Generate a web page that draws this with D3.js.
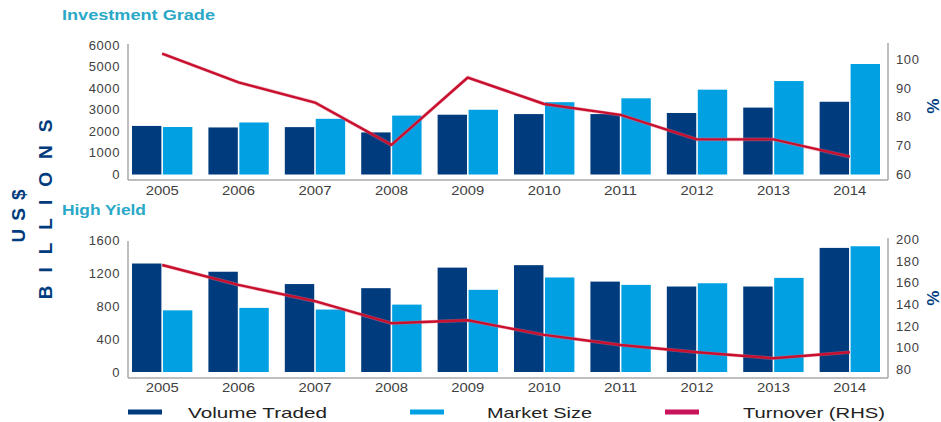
<!DOCTYPE html>
<html>
<head>
<meta charset="utf-8">
<script src="https://cdn.jsdelivr.net/npm/d3@7"></script>
<style>
  body { margin: 0; background: #fff; }
  svg { display: block; font-family: "Liberation Sans", Arial, sans-serif; }
</style>
</head>
<body>
<svg id="chart" width="941" height="422"></svg>
<script>
// data
const years = ['2005', '2006', '2007', '2008', '2009', '2010', '2011', '2012', '2013', '2014'];

const igVolume = [2250, 2180, 2195, 1950, 2770, 2800, 2800, 2850, 3100, 3370];
const igMarket = [2200, 2410, 2580, 2730, 3000, 3350, 3530, 3930, 4330, 5120];
const igTurnover = [102, 92, 85, 70.3, 93.7, 84.5, 80.7, 72.2, 72.2, 66.2];

const hyVolume = [1320, 1220, 1070, 1020, 1270, 1300, 1100, 1040, 1040, 1510];
const hyMarket = [750, 780, 760, 820, 1000, 1150, 1060, 1080, 1145, 1530];
const hyTurnover = [176.4, 158, 143, 122.6, 125.3, 111.8, 102.5, 95.8, 90.2, 95.8];

const igLeftTicks = [0, 1000, 2000, 3000, 4000, 5000, 6000];
const igRightTicks = [60, 70, 80, 90, 100];
const hyLeftTicks = [0, 400, 800, 1200, 1600];
const hyRightTicks = [80, 100, 120, 140, 160, 180, 200];

const legendItems = ['Volume Traded', 'Market Size', 'Turnover (RHS)'];

const navy = '#003b7e';
const sky = '#00a0e2';
const red = '#c8102e';
const axisGrey = '#a8a8a8';
const tickText = '#404040';
const titleColor = '#2aa8c8';

const svg = d3.select('#chart');

const x = d3.scaleBand().domain(years).range([132, 880]).paddingInner(0.21);
const xSub = d3.scaleBand().domain(['vol', 'mkt']).range([0, x.bandwidth()]).paddingInner(0.05);

function drawPanel(cfg) {
    const g = svg.append('g');
    const yL = d3.scaleLinear().domain(cfg.leftDomain).range(cfg.yRange);
    const yR = d3.scaleLinear().domain(cfg.rightDomain).range(cfg.yRangeR);

    // axis lines
    g.append('line').attr('x1', 128).attr('x2', 128).attr('y1', cfg.axisTop).attr('y2', cfg.axisBottom)
        .attr('stroke', axisGrey).attr('stroke-width', 1.5);
    g.append('line').attr('x1', 888).attr('x2', 888).attr('y1', cfg.axisTopR).attr('y2', cfg.axisBottom)
        .attr('stroke', axisGrey).attr('stroke-width', 1.5);
    g.append('line').attr('x1', 128).attr('x2', 888).attr('y1', cfg.axisBottom).attr('y2', cfg.axisBottom)
        .attr('stroke', axisGrey).attr('stroke-width', 1.5);

    // bars
    const groups = g.selectAll('.grp').data(years).enter().append('g')
        .attr('transform', d => `translate(${x(d)},0)`);
    groups.append('rect')
        .attr('x', xSub('vol')).attr('width', xSub.bandwidth())
        .attr('y', (d, i) => yL(cfg.vol[i]))
        .attr('height', (d, i) => yL(0) - yL(cfg.vol[i]))
        .attr('fill', navy);
    groups.append('rect')
        .attr('x', xSub('mkt')).attr('width', xSub.bandwidth())
        .attr('y', (d, i) => yL(cfg.mkt[i]))
        .attr('height', (d, i) => yL(0) - yL(cfg.mkt[i]))
        .attr('fill', sky);

    // turnover line
    const line = d3.line()
        .x((d, i) => x(years[i]) + x.bandwidth() / 2)
        .y(d => yR(d));
    g.append('path').attr('d', line(cfg.turn))
        .attr('fill', 'none').attr('stroke', '#e8708a').attr('stroke-width', 3.6)
        .attr('stroke-linejoin', 'round').attr('opacity', 0.5);
    g.append('path').attr('d', line(cfg.turn))
        .attr('fill', 'none').attr('stroke', red).attr('stroke-width', 2.4)
        .attr('stroke-linejoin', 'round');

    // left tick labels
    g.selectAll('.lt').data(cfg.leftTicks).enter().append('text')
        .attr('x', 120).attr('y', d => yL(d)).attr('dy', '0.35em')
        .attr('text-anchor', 'end').attr('font-size', 13).attr('fill', tickText)
        .attr('letter-spacing', 0.6)
        .text(d => d);
    // right tick labels
    g.selectAll('.rt').data(cfg.rightTicks).enter().append('text')
        .attr('x', 896).attr('y', d => yR(d)).attr('dy', '0.35em')
        .attr('text-anchor', 'start').attr('font-size', 13).attr('fill', tickText)
        .attr('letter-spacing', 0.6)
        .text(d => d);
    // year labels
    g.selectAll('.yr').data(years).enter().append('text')
        .attr('x', d => x(d) + x.bandwidth() / 2).attr('y', cfg.yearBaseline)
        .attr('text-anchor', 'middle').attr('font-size', 13).attr('fill', tickText)
        .attr('textLength', 33).attr('lengthAdjust', 'spacingAndGlyphs')
        .text(d => d);

    // title
    g.append('text').attr('x', 62).attr('y', cfg.titleY)
        .attr('font-size', 14).attr('font-weight', 'bold').attr('fill', titleColor)
        .attr('textLength', cfg.titleLen).attr('lengthAdjust', 'spacingAndGlyphs')
        .text(cfg.title);

    // % label
    g.append('text').attr('transform', `translate(933,${cfg.pctY}) rotate(90)`)
        .attr('text-anchor', 'middle').attr('dy', '0.35em')
        .attr('font-size', 17).attr('font-weight', 'bold').attr('fill', navy)
        .text('%');
}

drawPanel({
    title: 'Investment Grade', titleY: 20, titleLen: 153,
    vol: igVolume, mkt: igMarket, turn: igTurnover,
    leftDomain: [0, 6000], yRange: [174.5, 45],
    rightDomain: [60, 105], yRangeR: [174.5, 45],
    leftTicks: igLeftTicks, rightTicks: igRightTicks,
    axisTop: 44, axisTopR: 43, axisBottom: 180,
    yearBaseline: 195, pctY: 106
});

drawPanel({
    title: 'High Yield', titleY: 215, titleLen: 84,
    vol: hyVolume, mkt: hyMarket, turn: hyTurnover,
    leftDomain: [0, 1600], yRange: [372, 240.5],
    rightDomain: [80, 200], yRangeR: [369.3, 239.5],
    leftTicks: hyLeftTicks, rightTicks: hyRightTicks,
    axisTop: 241, axisTopR: 238, axisBottom: 378,
    yearBaseline: 392, pctY: 298
});

// vertical unit label
svg.append('text').attr('transform', 'translate(18,212) rotate(-90)')
    .attr('text-anchor', 'middle').attr('dy', '0.35em')
    .attr('font-size', 19).attr('font-weight', 'bold').attr('fill', navy)
    .attr('letter-spacing', 8)
    .text('US$');
svg.append('text').attr('transform', 'translate(45,203) rotate(-90)')
    .attr('text-anchor', 'middle').attr('dy', '0.35em')
    .attr('font-size', 19).attr('font-weight', 'bold').attr('fill', navy)
    .attr('letter-spacing', 13)
    .text('BILLIONS');

// legend
const legendX = [128, 410, 665];
const legendTextX = [188, 487, 743];
const legendLen = [139, 105, 142];
const legendColors = [navy, sky, '#c8125a'];
const leg = svg.append('g');
leg.selectAll('line').data(legendItems).enter().append('line')
    .attr('x1', (d, i) => legendX[i]).attr('x2', (d, i) => legendX[i] + 34)
    .attr('y1', 412).attr('y2', 412)
    .attr('stroke', (d, i) => legendColors[i]).attr('stroke-width', 5);
leg.selectAll('text').data(legendItems).enter().append('text')
    .attr('x', (d, i) => legendTextX[i]).attr('y', 418)
    .attr('font-size', 15).attr('fill', '#222')
    .attr('textLength', (d, i) => legendLen[i]).attr('lengthAdjust', 'spacingAndGlyphs')
    .text(d => d);
</script>
</body>
</html>
